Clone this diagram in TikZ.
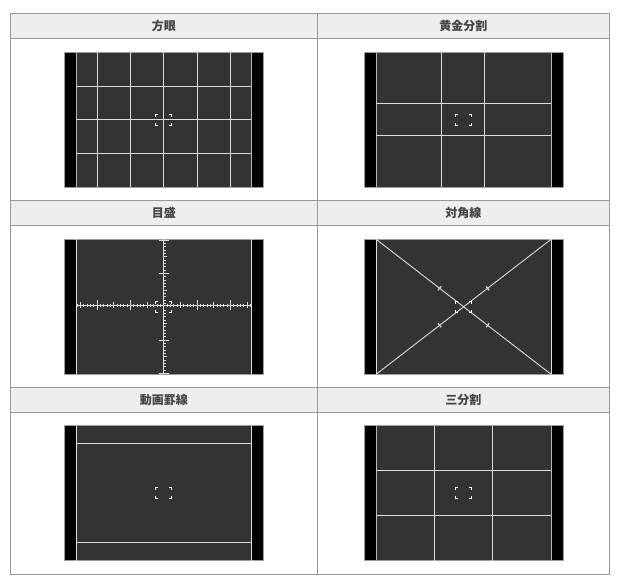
\documentclass[tikz,border=0pt]{standalone}
\usepackage{fontspec}
\newfontfamily\jpfont{Noto Sans CJK JP}
\definecolor{rulegray}{HTML}{999999}
\definecolor{headbg}{HTML}{EEEEEE}
\definecolor{headtxt}{HTML}{444444}
\definecolor{lcd}{HTML}{333333}
\definecolor{guidec}{HTML}{DDDDDD}

% LCD base: dark area with black side bars, centred on (0,0)
\newcommand\lcdframe{%
  \fill[lcd] (-99.5,-67.5) rectangle (99.5,67.5);
  \fill[black] (-99.5,-67.5) rectangle (-87.5,67.5);
  \fill[black] (87.5,-67.5) rectangle (99.5,67.5);
  \draw[edgeline] (-87.5,-67.5) -- (-87.5,67.5) (87.5,-67.5) -- (87.5,67.5);
  \draw[framebox] (-99.5,-67.5) rectangle (99.5,67.5);
}
% AF bracket in the middle
\newcommand\afbracket{%
  \draw[afmark] (-8,-3) -- (-8,-5.5) -- (-5.5,-5.5);
  \draw[afmark] (5.5,-5.5) -- (8,-5.5) -- (8,-3);
  \draw[afmark] (-8,3) -- (-8,5.5) -- (-5.5,5.5);
  \draw[afmark] (5.5,5.5) -- (8,5.5) -- (8,3);
}

\begin{document}
\begin{tikzpicture}[x=1pt, y=-1pt,
  cell/.style={draw=rulegray, line width=1pt},
  title/.style={font=\jpfont\bfseries\fontsize{12}{14}\selectfont,
                text=headtxt, inner sep=0pt},
  framebox/.style={draw=gray!75, line width=0.8pt},
  edgeline/.style={draw=gray!55, line width=0.7pt},
  guide/.style={draw=guidec, line width=0.9pt},
  afmark/.style={draw=white, line width=0.9pt},
]
\useasboundingbox (0,0) rectangle (621,585);

% Tabelle
\foreach \y in {13.7, 200.3, 387.3}
  \fill[headbg] (10.5,\y) rectangle (609.3,\y+25);
\draw[cell] (10.5,13.7) rectangle (609.3,574);
\draw[cell] (317.3,13.7) -- (317.3,574);
\foreach \y in {38.3, 200.3, 225.3, 387.3, 412.3}
  \draw[cell] (10.5,\y) -- (609.3,\y);

% Kopfzeilen
\node[title] (gridT)   at (163.9,26)    {方眼};
\node[title] (goldT)   at (463.3,26)    {黄金分割};
\node[title] (scaleT)  at (163.9,212.8) {目盛};
\node[title] (diagT)   at (463.3,212.8) {対角線};
\node[title] (movieT)  at (163.9,399.8) {動画罫線};
\node[title] (thirdT)  at (463.3,399.8) {三分割};

% 方眼
\begin{scope}[shift={(163.8,119.8)}]
  \lcdframe
  \foreach \x in {-66.6,-33.3,0,33.3,66.6}
    \draw[guide] (\x,-67.5) -- (\x,67.5);
  \foreach \y in {-33.5,0,33.5}
    \draw[guide] (-87.5,\y) -- (87.5,\y);
  \afbracket
\end{scope}

% 黄金分割
\begin{scope}[shift={(463.6,119.8)}]
  \lcdframe
  \foreach \x in {-22,21}
    \draw[guide] (\x,-67.5) -- (\x,67.5);
  \foreach \y in {-16,16}
    \draw[guide] (-87.5,\y) -- (87.5,\y);
  \afbracket
\end{scope}

% 目盛
\begin{scope}[shift={(163.8,306.8)}]
  \lcdframe
  \draw[guide] (-87.5,-67.5) -- (-87.5,67.5) (87.5,-67.5) -- (87.5,67.5);
  \draw[guide] (0,-67.5) -- (0,67.5);
  \draw[guide] (-87.5,-1.5) -- (87.5,-1.5);
  \foreach \i in {-26,...,-1,1,2,...,26}{
    \pgfmathsetmacro\len{ifthenelse(mod(abs(\i),10)==0,5,ifthenelse(mod(abs(\i),5)==0,3,1.6))}
    \draw[guide, line width=0.7pt] (\i*3.333,-1.5-\len) -- (\i*3.333,-1.5+\len);
  }
  \foreach \i in {-20,...,-1,1,2,...,20}{
    \pgfmathsetmacro\len{ifthenelse(mod(abs(\i),10)==0,5,ifthenelse(mod(abs(\i),5)==0,3,2))}
    \pgfmathsetmacro\lft{ifthenelse(mod(abs(\i),10)==0,-5,0)}
    \draw[guide, line width=0.7pt] (\lft,\i*3.333) -- (\len,\i*3.333);
  }
  \afbracket
\end{scope}

% 対角線
\begin{scope}[shift={(463.6,306.8)}]
  \lcdframe
  \draw[guide] (-87.5,-67.5) -- (-87.5,67.5) (87.5,-67.5) -- (87.5,67.5);
  \draw[guide] (-87.5,-67.5) -- (87.5,67.5);
  \draw[guide] (-87.5,67.5) -- (87.5,-67.5);
  \foreach \s in {-1,1}{
    \draw[guide, line width=1.2pt] (\s*24-1.6,\s*18.5+2) -- (\s*24+1.6,\s*18.5-2);
    \draw[guide, line width=1.2pt] (\s*24-1.6,-\s*18.5-2) -- (\s*24+1.6,-\s*18.5+2);
  }
  \afbracket
\end{scope}

% 動画罫線
\begin{scope}[shift={(163.8,493.3)}]
  \lcdframe
  \draw[guide] (-87.5,-67.5) -- (-87.5,67.5) (87.5,-67.5) -- (87.5,67.5);
  \foreach \y in {-50,49.5}
    \draw[guide] (-87.5,\y) -- (87.5,\y);
  \afbracket
\end{scope}

% 三分割
\begin{scope}[shift={(463.6,493.3)}]
  \lcdframe
  \foreach \x in {-29.2,29.2}
    \draw[guide] (\x,-67.5) -- (\x,67.5);
  \foreach \y in {-22.5,22.5}
    \draw[guide] (-87.5,\y) -- (87.5,\y);
  \afbracket
\end{scope}
\end{tikzpicture}
\end{document}
